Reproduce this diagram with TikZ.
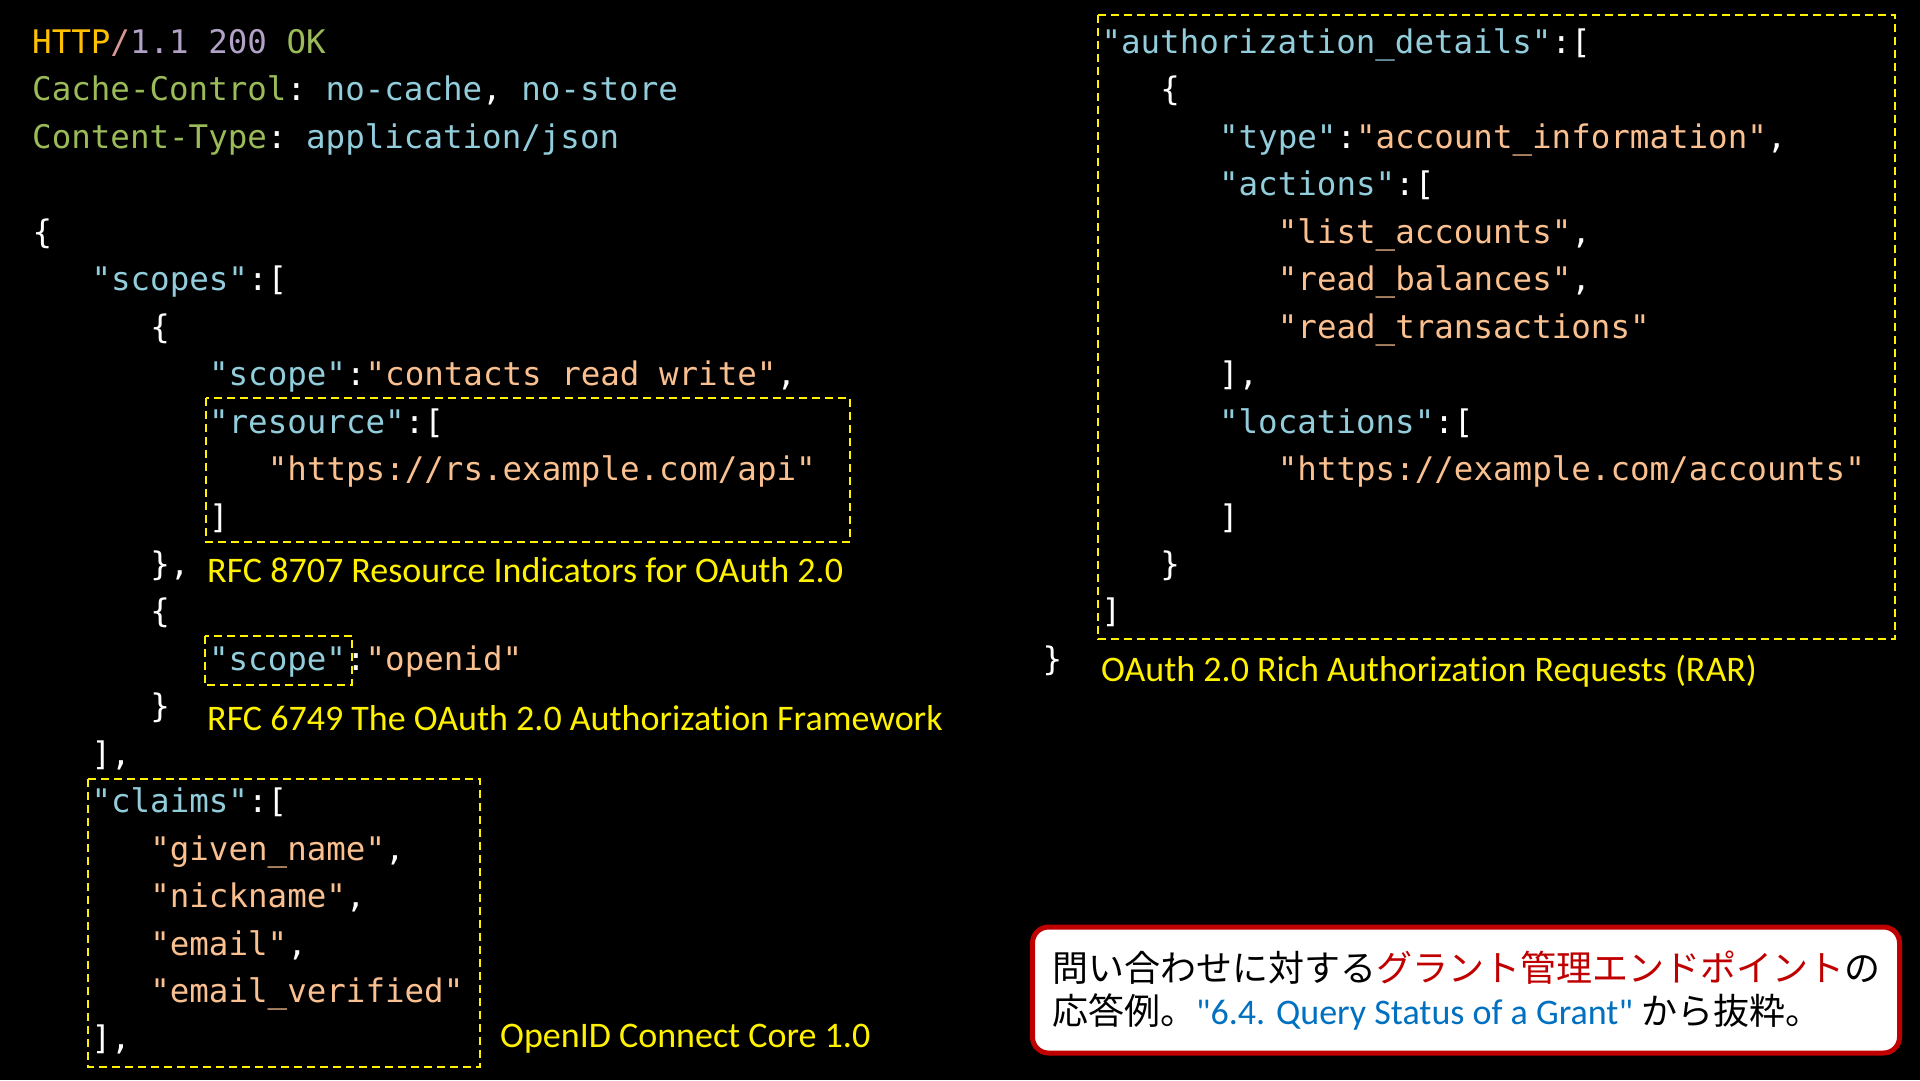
\documentclass[tikz,border=0pt]{standalone}
\usepackage{fontspec}
\setmonofont{DejaVu Sans Mono}
\newfontfamily\labelfont{Carlito}[Ligatures=NoCommon]
\newfontfamily\cjk{Noto Sans CJK JP}

\definecolor{keyblue}{HTML}{92CDDC}
\definecolor{strpeach}{HTML}{FAC090}
\definecolor{hdrgreen}{HTML}{9BBB59}
\definecolor{hdrgold}{HTML}{FFC000}
\definecolor{hdrpink}{HTML}{D99694}
\definecolor{hdrlilac}{HTML}{B3A2C7}
\definecolor{notered}{HTML}{C00000}
\definecolor{noteblue}{HTML}{0070C0}

\newcommand{\jkey}[1]{\textcolor{keyblue}{#1}}
\newcommand{\jstr}[1]{\textcolor{strpeach}{#1}}

\tikzset{
  code/.style={anchor=base west, inner sep=0pt, text=white,
    font=\ttfamily\fontsize{32.5}{47}\selectfont},
  cite/.style={anchor=base west, inner sep=0pt, text=yellow,
    font=\labelfont\fontsize{36}{42}\selectfont},
  hilite/.style={draw=yellow, line width=2pt, dash pattern=on 8pt off 5pt},
  notebox/.style={draw=notered, line width=5pt, fill=white, rounded corners=16pt,
    minimum width=867pt, minimum height=126pt, inner sep=0pt},
  notetext/.style={anchor=base west, inner sep=0pt, text=black,
    font=\cjk\fontsize{36}{44}\selectfont}
}

\begin{document}
\begin{tikzpicture}[x=1pt, y=-1pt]
    \useasboundingbox (0, 0) rectangle (1920, 1080);
    \fill[black] (0, 0) rectangle (1920, 1080);

    % en-tetes
    \node[code] (status) at (32, 53) {\textcolor{hdrgold}{HTTP}\textcolor{hdrpink}{/}\textcolor{hdrlilac}{1.1 200} \textcolor{hdrgreen}{OK}};
    \node[code] (cache) at (32, 100) {\textcolor{hdrgreen}{Cache-Control}: \jkey{no-cache}, \jkey{no-store}};
    \node[code] (ctype) at (32, 148) {\textcolor{hdrgreen}{Content-Type}: \jkey{application/json}};

    % colonne de gauche
    \node[code] (rootopen) at (32.5, 243) {\{};
    \node[code] (scopes) at (91.3, 290) {\jkey{"scopes"}:[};
    \node[code] (firstopen) at (150.1, 338) {\{};
    \node[code] (scopeone) at (208.9, 385) {\jkey{"scope"}:\jstr{"contacts read write"},};
    \node[code] (resource) at (208.9, 433) {\jkey{"resource"}:[};
    \node[code] (rsurl) at (267.7, 480) {\jstr{"https://rs.example.com/api"}};
    \node[code] (resclose) at (208.9, 528) {]};
    \node[code] (firstclose) at (150.1, 575) {\},};
    \node[code] (secondopen) at (150.1, 622) {\{};
    \node[code] (scopetwo) at (208.9, 670) {\jkey{"scope"}:\jstr{"openid"}};
    \node[code] (secondclose) at (150.1, 717) {\}};
    \node[code] (scopesclose) at (91.3, 765) {],};
    \node[code] (claims) at (91.3, 812) {\jkey{"claims"}:[};
    \node[code] (given) at (150.1, 860) {\jstr{"given\_name"},};
    \node[code] (nick) at (150.1, 907) {\jstr{"nickname"},};
    \node[code] (email) at (150.1, 955) {\jstr{"email"},};
    \node[code] (verified) at (150.1, 1002) {\jstr{"email\_verified"}};
    \node[code] (claimsclose) at (91.3, 1049) {],};

    % colonne de droite
    \node[code] (authz) at (1101.3, 53) {\jkey{"authorization\_details"}:[};
    \node[code] (detopen) at (1160.1, 100) {\{};
    \node[code] (type) at (1218.9, 148) {\jkey{"type"}:\jstr{"account\_information"},};
    \node[code] (actions) at (1218.9, 195) {\jkey{"actions"}:[};
    \node[code] (listacc) at (1277.7, 243) {\jstr{"list\_accounts"},};
    \node[code] (readbal) at (1277.7, 290) {\jstr{"read\_balances"},};
    \node[code] (readtx) at (1277.7, 338) {\jstr{"read\_transactions"}};
    \node[code] (actclose) at (1218.9, 385) {],};
    \node[code] (locations) at (1218.9, 433) {\jkey{"locations"}:[};
    \node[code] (locurl) at (1277.7, 480) {\jstr{"https://example.com/accounts"}};
    \node[code] (locclose) at (1218.9, 528) {]};
    \node[code] (detclose) at (1160.1, 575) {\}};
    \node[code] (authzclose) at (1101.3, 622) {]};
    \node[code] (rootclose) at (1042.5, 670) {\}};

    % cadres
    \draw[hilite] (206, 398) rectangle (850, 542);
    \draw[hilite] (204.5, 635.5) rectangle (352, 685);
    \draw[hilite] (88, 779) rectangle (480, 1067);
    \draw[hilite] (1098, 15) rectangle (1895, 639);

    % references
    \node[cite] (rfcres) at (207, 582) {RFC 8707 Resource Indicators for OAuth 2.0};
    \node[cite] (rfcoauth) at (207, 730) {RFC 6749 The OAuth 2.0 Authorization Framework};
    \node[cite] (oidc) at (500, 1047) {OpenID Connect Core 1.0};
    \node[cite] (rar) at (1101, 681) {OAuth 2.0 Rich Authorization Requests (RAR)};

    % note
    \node[notebox] (note) at (1466, 990) {};
    \node[notetext] (notelineA) at (1052, 981) {問い合わせに対する\textcolor{notered}{グラント管理エンドポイント}の};
    \node[notetext] (notelineB) at (1052, 1024.5) {応答例。\textcolor{noteblue}{\labelfont\textquotedbl 6.4. Query Status of a Grant\textquotedbl} から抜粋。};

\end{tikzpicture}
\end{document}
